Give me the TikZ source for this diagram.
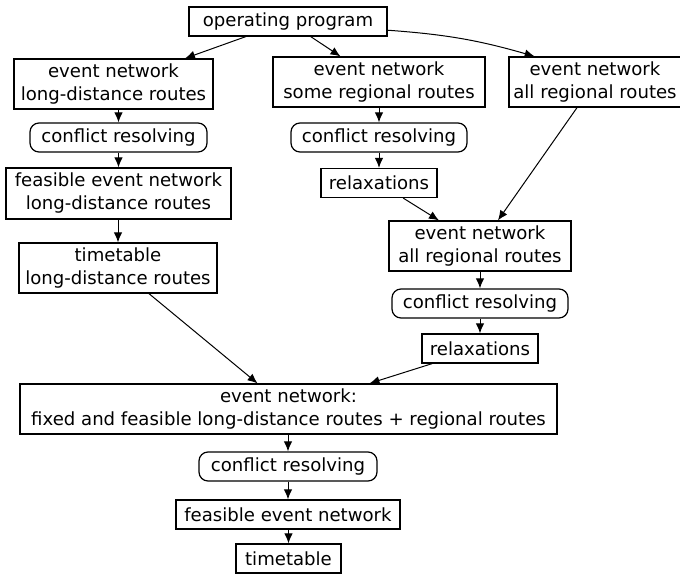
\documentclass[tikz,border=0pt]{standalone}
\usepackage{fontspec}
\setmainfont{DejaVu Sans}
\usetikzlibrary{arrows.meta, positioning, calc}

\begin{document}
\begin{tikzpicture}[
    x=0.5pt, y=-0.5pt,
    box/.style={draw, line width=0.6pt, minimum height=14.5pt, inner xsep=2pt, inner ysep=1pt, align=center},
    twobox/.style={box, minimum height=25pt},
    roundbox/.style={box, rounded corners=4.5pt},
    arrow/.style={-{Latex[length=5pt, width=4.2pt]}, line width=0.5pt},
    font=\fontsize{9.05}{11.5}\selectfont
]
\useasboundingbox (0,0) rectangle (680,573);

% Nodes
\node[box, minimum width=99pt] (program) at (288,21.5) {operating program};
\node[twobox, minimum width=99.5pt] (netlong) at (113.5,84) {event network\\long-distance routes};
\node[twobox, minimum width=106pt] (netsome) at (379,82) {event network\\some regional routes};
\node[twobox, minimum width=86pt] (netall) at (595,82) {event network\\all regional routes};

\node[roundbox, minimum width=88.5pt] (resolvelong) at (118.5,137.5) {conflict resolving};
\node[roundbox, minimum width=88pt] (resolvesome) at (379,137.5) {conflict resolving};
\node[twobox, minimum width=112.5pt, minimum height=25.5pt] (feaslong) at (118.5,193.5) {feasible event network\\long-distance routes};
\node[box, minimum width=58pt] (relaxsome) at (379,183) {relaxations};
\node[twobox, minimum width=99pt] (timelong) at (118,268) {timetable\\long-distance routes};

\node[twobox, minimum width=91pt] (netregional) at (480,246) {event network\\all regional routes};
\node[roundbox, minimum width=88pt] (resolveregional) at (480,303.5) {conflict resolving};
\node[box, minimum width=58pt] (relaxregional) at (480,348.5) {relaxations};

\node[twobox, minimum width=268.5pt] (netfixed) at (288.5,409) {event network:\\fixed and feasible long-distance routes + regional routes};
\node[roundbox, minimum width=89pt] (resolvefixed) at (288,466.5) {conflict resolving};
\node[box, minimum width=112pt] (feasfixed) at (288,514.5) {feasible event network};
\node[box, minimum width=52.5pt] (timetable) at (288.5,558.5) {timetable};

% Arrows
\draw[arrow] (program) -- (netlong);
\draw[arrow] (program) -- (netsome);
\draw[arrow] (program.-5) to[bend left=6] (netall.157);

\draw[arrow] (netlong.south -| resolvelong.north) -- (resolvelong.north);
\draw[arrow] (resolvelong) -- (feaslong);
\draw[arrow] (feaslong.south -| timelong.north) -- (timelong.north);
\draw[arrow] (timelong) -- (netfixed);

\draw[arrow] (netsome) -- (resolvesome);
\draw[arrow] (resolvesome) -- (relaxsome);
\draw[arrow] (relaxsome) -- (netregional);
\draw[arrow] (netall) -- (netregional);

\draw[arrow] (netregional) -- (resolveregional);
\draw[arrow] (resolveregional) -- (relaxregional);
\draw[arrow] (relaxregional) -- (netfixed);

\draw[arrow] (netfixed.south -| resolvefixed.north) -- (resolvefixed.north);
\draw[arrow] (resolvefixed) -- (feasfixed);
\draw[arrow] (feasfixed.south -| timetable.north) -- (timetable.north);

\end{tikzpicture}
\end{document}
